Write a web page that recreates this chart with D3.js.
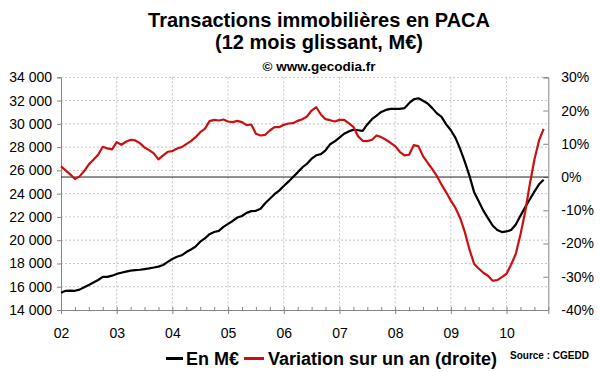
<!DOCTYPE html>
<html>
<head>
<meta charset="utf-8">
<script src="https://cdn.jsdelivr.net/npm/d3@7"></script>
<style>
  body { margin: 0; background: #fff; }
  svg { display: block; font-family: "Liberation Sans", Arial, sans-serif; }
</style>
</head>
<body>
<svg id="chart" width="600" height="372"></svg>
<script>
// monthly, Jan 2002 -> Sep 2010
var yearLabels = ["02", "03", "04", "05", "06", "07", "08", "09", "10"];
var leftTicks = [14000, 16000, 18000, 20000, 22000, 24000, 26000, 28000, 30000, 32000, 34000];
var rightTicks = [-40, -30, -20, -10, 0, 10, 20, 30];

// 12 mois glissant, M€ (black)
var volume = [
  15490, 15650, 15670, 15650, 15750, 15950, 16150, 16360, 16580, 16850, 16850, 16950,
  17100, 17200, 17300, 17380, 17420, 17460, 17520, 17580, 17650, 17730, 17870, 18130,
  18380, 18570, 18700, 18980, 19200, 19450, 19875, 20150, 20520, 20700, 20800, 21150,
  21400, 21650, 21950, 22080, 22350, 22500, 22520, 22700, 23170, 23560, 23950, 24260,
  24660, 25030, 25430, 25830, 26250, 26570, 27000, 27300, 27400, 27720, 28250, 28500,
  28820, 29150, 29350, 29500, 29450, 29400, 29950, 30400, 30700, 31020, 31200, 31290,
  31290, 31290, 31350, 31780, 32100, 32200, 31980, 31750, 31350, 30900, 30600, 29950,
  29450, 28800, 27850, 26760, 25550, 24150, 23350, 22540, 21890, 21260, 20870, 20700,
  20750, 20880, 21350, 22100, 22820, 23500, 24170, 24800, 25200
];

// variation sur un an, % (red, right axis)
var variation = [
  3.2, 2.0, 0.8, -0.6, 0.2, 1.8, 3.8, 5.2, 6.7, 9.1, 8.6, 8.3,
  10.5, 9.7, 10.6, 11.2, 11.0, 10.2, 8.9, 8.1, 7.1, 5.3, 6.5, 7.6,
  7.8, 8.6, 9.0, 9.9, 10.8, 12.0, 13.5, 14.5, 16.8, 17.2, 17.0, 17.3,
  16.7, 16.5, 16.9, 16.5, 15.6, 15.8, 13.0, 12.5, 12.7, 14.0, 15.0, 15.0,
  15.7, 16.1, 16.2, 16.9, 17.4, 18.2, 20.0, 21.0, 18.8, 17.4, 17.1, 16.7,
  17.2, 17.2, 16.2, 15.1, 12.3, 10.9, 10.8, 11.2, 12.5, 12.0, 11.2, 10.3,
  9.3, 7.6, 6.5, 6.7, 9.6, 9.3, 6.3, 4.3, 2.4, 0.3, -2.3, -4.6,
  -7.1, -9.3, -12.3, -16.5, -21.7, -26.1, -27.5, -28.8, -29.7, -31.2, -31.0, -30.1,
  -29.1, -26.3, -23.1, -17.3, -10.6, -2.3, 5.2, 11.0, 14.5
];

var svg = d3.select("#chart");
var plotLeft = 61, plotRight = 548.3, plotTop = 77.3, plotBottom = 310;

var x = d3.scaleLinear().domain([0, 105]).range([plotLeft, plotRight]);
var yL = d3.scaleLinear().domain([14000, 34000]).range([plotBottom, plotTop]);
var yR = d3.scaleLinear().domain([-40, 30]).range([plotBottom, plotTop]);

var axisColor = "#868686";
var gridColor = "#c4c4c4";

// titles
svg.append("text").attr("x", 319).attr("y", 26.5).attr("text-anchor", "middle")
  .style("font-size", "20px").style("font-weight", "bold")
  .text("Transactions immobilières en PACA");
svg.append("text").attr("x", 319).attr("y", 49.3).attr("text-anchor", "middle")
  .style("font-size", "20px").style("font-weight", "bold")
  .text("(12 mois glissant, M€)");
svg.append("text").attr("x", 319).attr("y", 70.5).attr("text-anchor", "middle")
  .style("font-size", "13.5px").style("font-weight", "bold")
  .text("© www.gecodia.fr");

// grid
var yearIdx = yearLabels.map(function(d, i){ return i * 12; });

svg.append("g").selectAll("line")
  .data(leftTicks.slice(1))
  .enter().append("line")
  .attr("x1", plotLeft).attr("x2", plotRight)
  .attr("y1", function(d){ return yL(d); })
  .attr("y2", function(d){ return yL(d); })
  .attr("stroke", gridColor).attr("stroke-dasharray", "2,2");

svg.append("g").selectAll("line")
  .data(yearIdx.slice(1))
  .enter().append("line")
  .attr("x1", function(d){ return x(d); })
  .attr("x2", function(d){ return x(d); })
  .attr("y1", plotTop).attr("y2", plotBottom)
  .attr("stroke", gridColor).attr("stroke-dasharray", "2,2");

// axes
var fmt = function(d){ return d3.format(",")(d).replace(",", " "); };

var gL = svg.append("g").attr("transform", "translate(" + plotLeft + ",0)")
  .call(d3.axisLeft(yL).tickValues(leftTicks).tickSize(4).tickPadding(5).tickFormat(fmt));

var gR = svg.append("g").attr("transform", "translate(" + plotRight + ",0)")
  .call(d3.axisRight(yR).tickValues(rightTicks).tickSize(-5).tickPadding(13)
    .tickFormat(function(d){ return d + "%"; }));

var gMinor = svg.append("g").attr("transform", "translate(0," + plotBottom + ")")
  .call(d3.axisBottom(x).tickValues(d3.range(0, 106, 3)).tickSize(-3).tickFormat(""));

var gB = svg.append("g").attr("transform", "translate(0," + plotBottom + ")")
  .call(d3.axisBottom(x).tickValues(yearIdx).tickSize(4).tickPadding(14.5)
    .tickFormat(function(d, i){ return yearLabels[i]; }));

[gL, gR, gMinor, gB].forEach(function(g){
  g.selectAll("path").attr("stroke", axisColor);
  g.selectAll("line").attr("stroke", axisColor);
  g.selectAll("text").attr("fill", "#000")
    .style("font-size", "14px").style("font-family", "'Liberation Sans', Arial, sans-serif");
});
gMinor.select("path").remove();

// 0% line
svg.append("line")
  .attr("x1", plotLeft).attr("x2", plotRight)
  .attr("y1", yR(0)).attr("y2", yR(0))
  .attr("stroke", "#222").attr("stroke-width", 1);

// series
var lineL = d3.line()
  .x(function(d, i){ return x(i); })
  .y(function(d){ return yL(d); });
var lineR = d3.line()
  .x(function(d, i){ return x(i); })
  .y(function(d){ return yR(d); });

svg.append("path").datum(volume)
  .attr("d", lineL)
  .attr("fill", "none").attr("stroke", "#000").attr("stroke-width", 2.2)
  .attr("stroke-linejoin", "round");

svg.append("path").datum(variation)
  .attr("d", lineR)
  .attr("fill", "none").attr("stroke", "#cc1010").attr("stroke-width", 2.2)
  .attr("stroke-linejoin", "round");

// legend
var leg = svg.append("g").style("font-size", "18px").style("font-weight", "bold");
var lx = 166, ly = 364.5;
leg.append("line").attr("x1", lx).attr("x2", lx + 17).attr("y1", ly - 6).attr("y2", ly - 6)
  .attr("stroke", "#000").attr("stroke-width", 3);
var t1 = leg.append("text").attr("x", lx + 20).attr("y", ly).text("En M€");
var w1 = t1.node().getComputedTextLength();
var rx = lx + 20 + w1 + 5;
leg.append("line").attr("x1", rx).attr("x2", rx + 20).attr("y1", ly - 6).attr("y2", ly - 6)
  .attr("stroke", "#cc1010").attr("stroke-width", 3);
leg.append("text").attr("x", rx + 24).attr("y", ly).text("Variation sur un an (droite)");

svg.append("text").attr("x", 510).attr("y", 358.5)
  .style("font-size", "10px").style("font-weight", "bold")
  .text("Source : CGEDD");
</script>
</body>
</html>
